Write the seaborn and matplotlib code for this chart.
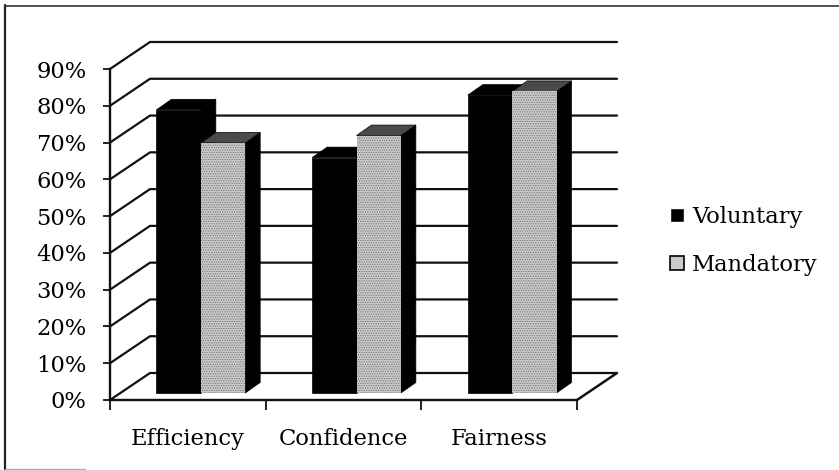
#!/bin/python3

import matplotlib
matplotlib.use('Agg')
import matplotlib.pyplot as plt
import pandas as pd
import seaborn as sns
from matplotlib.lines import Line2D
from matplotlib.patches import Polygon

categories = ['Efficiency', 'Confidence', 'Fairness']
voluntary = [0.77, 0.64, 0.81]
mandatory = [0.68, 0.70, 0.82]
y_ticks = [0, 0.1, 0.2, 0.3, 0.4, 0.5, 0.6, 0.7, 0.8, 0.9]
y_labels = ['0%', '10%', '20%', '30%', '40%', '50%', '60%', '70%', '80%', '90%']

W, H = 839, 470
# pixel box of the front plane
left, right, bottom, top = 110, 577, 400, 69
px_x = 3 / (right - left)        # category units per pixel
px_y = 0.9 / (bottom - top)      # value units per pixel

sns.set_theme(style='white')
plt.rcParams['font.family'] = ['DejaVu Serif']
plt.rcParams['hatch.linewidth'] = 0.5
FS = 16.3

fig = plt.figure(figsize=(W / 100, H / 100), dpi=100)

# scanned frame: no right side, bottom mostly lost
def frame_line(xs, ys, color, lw):
    fig.add_artist(Line2D([x / W for x in xs], [1 - y / H for y in ys], color=color, lw=lw,
                          transform=fig.transFigure))

frame_line([5, 5], [5, 469], '#222222', 1.6)
frame_line([5, 839], [6, 6], '#333333', 1.2)
frame_line([5, 85], [469, 469], '#aaaaaa', 1.0)

ax = fig.add_axes([left / W, 1 - bottom / H, (right - left) / W, (bottom - top) / H])

data = pd.DataFrame({'category': categories * 2,
                     'value': voluntary + mandatory,
                     'series': ['Voluntary'] * 3 + ['Mandatory'] * 3})
sns.barplot(data=data, x='category', y='value', hue='series', ax=ax, width=0.57, gap=0,
            palette=['black', '#c9c9c9'], saturation=1, zorder=3)

ax.set_xlim(-0.5, 2.5)
ax.set_ylim(0, 0.9)
ax.set_xlabel('')
ax.set_ylabel('')
ax.set_facecolor('none')

# back wall + side wall lines
back_x, back_y = 40 * px_x, 27 * px_y
for t in y_ticks:
    ax.plot([-0.5, -0.5 + back_x, 2.5 + back_x], [t, t + back_y, t + back_y],
            color='#111111', lw=1.6, clip_on=False, zorder=1)
ax.plot([2.5, 2.5 + back_x], [0, back_y], color='#111111', lw=1.8, clip_on=False, zorder=1)

# bars stand a bit inside the floor, depth drawn from each bar
front_x, front_y = 13 * px_x, 7 * px_y
depth_x, depth_y = 15 * px_x, 10.5 * px_y
n = len(categories)
bars = [p for p in ax.patches if p.get_height() > 0]
for i, p in enumerate(bars):
    is_mand = i >= n
    p.set_x(p.get_x() + front_x)
    p.set_y(front_y)
    if is_mand:
        p.set_hatch('.......')
        p.set_edgecolor('#6e6e6e')
        p.set_linewidth(0)
    else:
        p.set_edgecolor('black')
        p.set_linewidth(0.5)
    x0, x1 = p.get_x(), p.get_x() + p.get_width()
    y0, y1 = front_y, front_y + p.get_height()
    z = 4 if is_mand else 2
    p.set_zorder(z + 1)
    ax.add_patch(Polygon([(x1, y0), (x1 + depth_x, y0 + depth_y),
                          (x1 + depth_x, y1 + depth_y), (x1, y1)],
                         facecolor='black', edgecolor='black', lw=0.5, zorder=z, clip_on=False))
    ax.add_patch(Polygon([(x0, y1), (x0 + depth_x, y1 + depth_y),
                          (x1 + depth_x, y1 + depth_y), (x1, y1)],
                         facecolor='#4a4a4a' if is_mand else 'black', edgecolor='black', lw=0.5,
                         zorder=z, clip_on=False))
    p.set_clip_on(False)

sns.despine(ax=ax)
for s in ['left', 'bottom']:
    ax.spines[s].set_color('#111111')
    ax.spines[s].set_linewidth(1.7)
    ax.spines[s].set_zorder(2)

ax.set_yticks(y_ticks)
ax.set_yticklabels(y_labels, fontsize=FS, color='black')
ax.tick_params(axis='y', left=True, length=5, width=1.3, color='#111111', pad=12)
ax.set_xticks([-0.5, 0.5, 1.5, 2.5], minor=True)
ax.tick_params(axis='x', which='minor', bottom=True, length=7, width=1.3, color='#111111')
ax.tick_params(axis='x', which='major', bottom=False, length=0, pad=20)
ax.set_xticklabels(categories, fontsize=FS, color='black')

handles, labels = ax.get_legend_handles_labels()
leg = ax.legend(handles, labels, loc='center left', bbox_to_anchor=(670 / W, 1 - 241 / H),
                bbox_transform=fig.transFigure, frameon=False, fontsize=FS, borderpad=0,
                borderaxespad=0, handlelength=0.62, handleheight=0.62, handletextpad=0.36,
                labelspacing=1.15, labelcolor='black')
leg.legend_handles[1].set_edgecolor('black')
leg.legend_handles[1].set_linewidth(1.2)

fig.savefig('out.png', dpi=100)
